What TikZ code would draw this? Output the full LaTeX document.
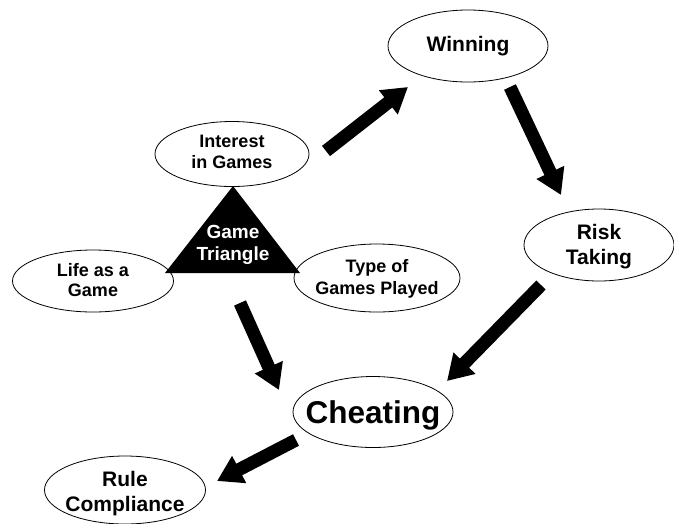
\documentclass[tikz,border=0pt]{standalone}
\usepackage{fontspec}
\setmainfont{Liberation Sans}
\usetikzlibrary{shapes.geometric,arrows.meta}
\begin{document}
\begin{tikzpicture}[x=1pt,y=-1pt,
  oval/.style={ellipse, draw, line width=0.8pt, inner sep=0pt},
  txt/.style={align=center, inner sep=0pt, font=\bfseries\fontsize{18}{20.5}\selectfont},
  bigarrow/.style={line width=13pt, -{Triangle[length=25pt,width=29pt]}}]
\useasboundingbox (0,0) rectangle (674,523);
% ellipses
\node[oval, minimum width=160pt, minimum height=72pt] (win) at (468,46) {};
\node[oval, minimum width=154pt, minimum height=65pt] (int) at (232,154) {};
\node[oval, minimum width=161pt, minimum height=62pt] (life) at (93,281) {};
\node[oval, minimum width=166pt, minimum height=68pt] (type) at (377,278) {};
\node[oval, minimum width=150pt, minimum height=72pt] (risk) at (599,245) {};
\node[oval, minimum width=160pt, minimum height=71pt] (cheat) at (373,412) {};
\node[oval, minimum width=161pt, minimum height=68pt] (rule) at (125,490) {};
% texts
\node[txt, font=\bfseries\fontsize{21}{25}\selectfont] (winT) at (win) {Winning};
\node[txt, font=\bfseries\fontsize{18}{20.7}\selectfont] (intT) at (232,152) {Interest\\in Games};
\node[txt, font=\bfseries\fontsize{18}{19.5}\selectfont] (lifeT) at (93,280) {Life as a\\Game};
\node[txt, font=\bfseries\fontsize{18}{21.7}\selectfont] (typeT) at (377,279) {Type of\\Games Played};
\node[txt, font=\bfseries\fontsize{21}{25}\selectfont] (riskT) at (599,247) {Risk\\Taking};
\node[txt, font=\bfseries\fontsize{31.5}{36}\selectfont] (cheatT) at (373,415) {Cheating};
\node[txt, font=\bfseries\fontsize{21}{25}\selectfont] (ruleT) at (125,494) {Rule\\Compliance};
% triangle
\coordinate (t1) at (165,273);
\coordinate (t2) at (300,273);
\coordinate (t3) at (233,186);
\fill[black] (t1) -- (t2) -- (t3) -- cycle;
\node[txt, text=white, font=\bfseries\fontsize{19}{22}\selectfont] (gameT) at (233,245) {Game\\Triangle};
% arrows
\coordinate (a1s) at (326,151); \coordinate (a1e) at (408,87);
\coordinate (a2s) at (510,87);  \coordinate (a2e) at (561,195);
\coordinate (a3s) at (541,285); \coordinate (a3e) at (447,381);
\coordinate (a4s) at (240,303); \coordinate (a4e) at (279,390);
\coordinate (a5s) at (296,440); \coordinate (a5e) at (217,481);
\draw[bigarrow] (a1s) -- (a1e);
\draw[bigarrow] (a2s) -- (a2e);
\draw[bigarrow] (a3s) -- (a3e);
\draw[bigarrow] (a4s) -- (a4e);
\draw[bigarrow] (a5s) -- (a5e);
\end{tikzpicture}
\end{document}
